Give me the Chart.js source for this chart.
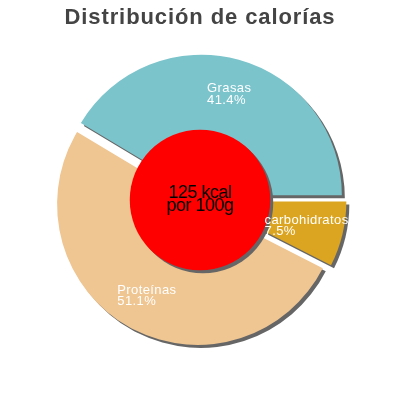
<!DOCTYPE html>
<html>
<head>
<meta charset="utf-8">
<script src="https://cdn.jsdelivr.net/npm/chart.js@4.4.1/dist/chart.umd.min.js"></script>
<style>
    html, body { margin: 0; padding: 0; background: #fff; }
    #wrap { width: 400px; height: 400px; }
</style>
</head>
<body>
<div id="wrap"><canvas id="calories-chart"></canvas></div>
<script>
// Chart data
const titleText = 'Distribución de calorías';
const categories = ['Grasas', 'carbohidratos', 'Proteínas'];
const percentages = [41.4, 7.5, 51.1];
const percentLabels = ['41.4%', '7.5%', '51.1%'];
const centerLines = ['125 kcal', 'por 100g'];

// Styles
const sliceColors = ['#7bc4cc', '#dba521', '#efc591'];
const explode = [5, 6, 5];
const fontFamily = "'Liberation Sans', Arial, sans-serif";

// Move each slice out along its middle angle
const explodePlugin = {
    id: 'explode',
    afterDatasetsUpdate(chart) {
        const meta = chart.getDatasetMeta(0);
        meta.data.forEach((arc, i) => {
            const mid = (arc.startAngle + arc.endAngle) / 2;
            arc.x += Math.cos(mid) * explode[i];
            arc.y += Math.sin(mid) * explode[i];
        });
    }
};

// Drop shadow, centre disc and slice labels
const decorPlugin = {
    id: 'decor',
    beforeDraw(chart) {
        chart.ctx.letterSpacing = '0.9px'; // title spacing
    },
    beforeDatasetsDraw(chart) {
        const ctx = chart.ctx;
        ctx.save();
        ctx.shadowColor = '#666666';
        ctx.shadowOffsetX = 3;
        ctx.shadowOffsetY = 3;
        ctx.shadowBlur = 0;
    },
    afterDatasetsDraw(chart) {
        const ctx = chart.ctx;
        const meta = chart.getDatasetMeta(0);
        const {left, right, top, bottom} = chart.chartArea;
        const cx = (left + right) / 2;
        const cy = (top + bottom) / 2;
        const outer = meta.data[0].outerRadius;

        // red centre disc (still with shadow)
        ctx.fillStyle = '#ff0000';
        ctx.beginPath();
        ctx.arc(cx, cy, outer * 0.5, 0, Math.PI * 2);
        ctx.fill();
        ctx.restore();

        // centre text
        ctx.save();
        ctx.fillStyle = '#000';
        ctx.font = '18px ' + fontFamily;
        ctx.letterSpacing = '-0.5px';
        ctx.textAlign = 'center';
        ctx.textBaseline = 'alphabetic';
        ctx.fillText(centerLines[0], cx, cy - 2.5);
        ctx.fillText(centerLines[1], cx, cy + 11);
        ctx.restore();

        // slice labels
        ctx.save();
        ctx.fillStyle = '#ffffff';
        ctx.font = '13px ' + fontFamily;
        ctx.letterSpacing = '0.4px';
        ctx.textAlign = 'left';
        ctx.textBaseline = 'alphabetic';
        meta.data.forEach((arc, i) => {
            const mid = (arc.startAngle + arc.endAngle) / 2;
            const ax = cx + Math.cos(mid) * outer * 0.78;
            const ay = cy + Math.sin(mid) * outer * 0.78;
            const w = Math.max(ctx.measureText(categories[i]).width,
                               ctx.measureText(percentLabels[i]).width);
            const x0 = ax - w / 2;
            ctx.fillText(categories[i], x0, ay - 2);
            ctx.fillText(percentLabels[i], x0, ay + 9.5);
        });
        ctx.restore();
    },
    afterDraw(chart) {
        chart.ctx.letterSpacing = '0px';
    }
};

const ctx = document.getElementById('calories-chart').getContext('2d');
new Chart(ctx, {
    type: 'pie',
    data: {
        labels: categories,
        datasets: [{
            data: percentages,
            backgroundColor: sliceColors,
            borderWidth: 0,
            radius: 140.5
        }]
    },
    options: {
        responsive: true,
        maintainAspectRatio: false,
        animation: false,
        rotation: 90 - percentages[0] * 3.6,
        layout: {
            padding: { top: 0, bottom: 31.4, left: 0, right: 0 }
        },
        plugins: {
            legend: { display: false },
            tooltip: { enabled: false },
            title: {
                display: true,
                text: titleText,
                color: '#444444',
                font: { family: fontFamily, size: 22, weight: 'bold' },
                padding: { top: 5, bottom: 0 }
            }
        }
    },
    plugins: [explodePlugin, decorPlugin]
});
</script>
</body>
</html>
